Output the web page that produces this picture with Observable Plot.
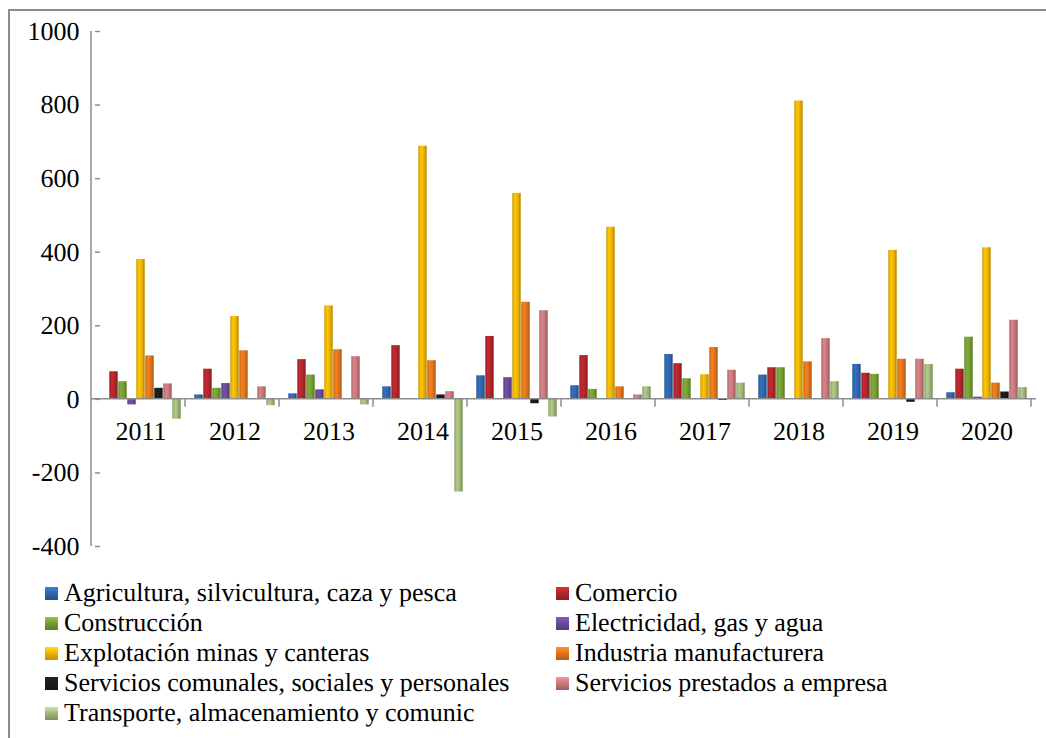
<!DOCTYPE html>
<html>
<head>
<meta charset="utf-8">
<script src="https://cdn.jsdelivr.net/npm/d3@7"></script>
<script src="https://cdn.jsdelivr.net/npm/@observablehq/plot@0.6"></script>
<style>
  * { text-rendering: geometricPrecision !important; }
  html, body { margin: 0; padding: 0; background: #fff; overflow: hidden; }
  #wrap { position: relative; width: 1046px; height: 738px; overflow: hidden; font-family: 'Liberation Serif'; }
  #frame { position: absolute; left: 8px; top: 9px; width: 1100px; height: 800px; border: 2px solid #8c8c8c; box-sizing: border-box; }
  #chart { position: absolute; left: 0; top: 0; }
  #chart svg text { text-rendering: geometricPrecision !important; font-family: 'Liberation Serif'; }
  .leg { position: absolute; font-family: 'Liberation Serif'; font-size: 26px; line-height: 30px; color: #000; white-space: nowrap; text-rendering: geometricPrecision; }
  .leg .sw { position: absolute; width: 13px; height: 13px; top: 9px; left: 0; }
  .leg .tx { position: absolute; left: 19px; top: 0; }
  g[aria-label="y-axis tick"] path { stroke: #8c8c8c; stroke-width: 1.5; }
</style>
</head>
<body>
<div id="wrap">
  <div id="frame"></div>
  <div id="chart"></div>
</div>
<script>
// ---------- data ----------
const years = ["2011","2012","2013","2014","2015","2016","2017","2018","2019","2020"];
const seriesNames = [
  "Agricultura, silvicultura, caza y pesca",
  "Comercio",
  "Construcción",
  "Electricidad, gas y agua",
  "Explotación minas y canteras",
  "Industria manufacturera",
  "Servicios comunales, sociales y personales",
  "Servicios prestados a empresa",
  "Transporte, almacenamiento y comunic"
];
const agricultura   = [0, 12, 15, 34, 64, 37, 122, 66, 95, 18];
const comercio      = [75, 82, 108, 146, 171, 119, 97, 86, 71, 82];
const construccion  = [48, 30, 66, 0, 0, 27, 56, 86, 68, 169];
const electricidad  = [-15, 43, 26, 0, 59, 0, 0, 2, 1, 6];
const explotacion   = [380, 225, 254, 688, 560, 468, 67, 811, 405, 412];
const industria     = [118, 132, 135, 105, 264, 34, 141, 102, 109, 44];
const servComunales = [30, 0, 0, 12, -12, 0, -3, 0, -8, 20];
const servPrestados = [42, 34, 116, 21, 241, 12, 79, 165, 109, 215];
const transporte    = [-54, -17, -15, -252, -48, 34, 44, 48, 95, 32];
const yTicks = [-400, -200, 0, 200, 400, 600, 800, 1000];
const colors = ["#2f67b1", "#b3262b", "#76a033", "#6a4b9b", "#f2b600", "#e3761b", "#1c1c1c", "#c97a7c", "#a2ba7c"];

const seriesValues = [agricultura, comercio, construccion, electricidad, explotacion, industria, servComunales, servPrestados, transporte];
const rows = [];
seriesNames.forEach((s, i) => years.forEach((y, j) => rows.push({year: y, series: s, value: seriesValues[i][j]})));

// ---------- gradients ----------
const defsSvg = d3.select("body").append("svg").attr("width", 0).attr("height", 0).style("position", "absolute");
const defs = defsSvg.append("defs");
colors.forEach((c, i) => {
  const g = defs.append("linearGradient").attr("id", "g" + i).attr("x1", 0).attr("x2", 1).attr("y1", 0).attr("y2", 0);
  const base = d3.color(c);
  g.append("stop").attr("offset", "0%").attr("stop-color", base.darker(0.5).formatHex());
  g.append("stop").attr("offset", "30%").attr("stop-color", base.brighter(0.25).formatHex());
  g.append("stop").attr("offset", "60%").attr("stop-color", base.formatHex());
  g.append("stop").attr("offset", "100%").attr("stop-color", base.darker(0.8).formatHex());
});

// ---------- chart ----------
const plot = Plot.plot({
  width: 1046,
  height: 562,
  marginTop: 31,
  marginLeft: 91,
  marginRight: 10,
  marginBottom: 16,
  style: {fontFamily: "'Liberation Serif'", fontSize: "26px", background: "transparent", color: "#000"},
  fx: {domain: years, paddingInner: 0.135, paddingOuter: 0.0675, axis: null},
  x: {domain: seriesNames, padding: 0, axis: null},
  y: {domain: [-400, 1000], ticks: yTicks, tickSize: 5, tickPadding: 16, tickFormat: d => String(d), label: null},
  color: {domain: seriesNames, range: colors.map((c, i) => `url(#g${i})`)},
  marks: [
    Plot.barY(rows, {fx: "year", x: "series", y: "value", fill: "series", insetLeft: 0.3, insetRight: 0.3}),
    Plot.text(years, {fx: d => d, y: () => 0, text: d => d, dy: 32, fontSize: 26, fill: "#000"})
  ]
});
document.getElementById("chart").appendChild(plot);

// axis lines drawn with the plot's own scales
const ys = plot.scale("y");
const fxs = plot.scale("fx");
const svg = d3.select(plot);
svg.attr("text-rendering", "geometricPrecision");
svg.selectAll("g").attr("font-variant", null);
const x0 = fxs.range[0], x1 = fxs.range[1];
const y0 = ys.apply(0);
const ax = svg.append("g").attr("stroke", "#8c8c8c").attr("stroke-width", 1.5).attr("fill", "none");
ax.append("line").attr("x1", x0).attr("x2", x0).attr("y1", ys.apply(1000)).attr("y2", ys.apply(-400));
ax.append("line").attr("x1", x0).attr("x2", x1).attr("y1", y0).attr("y2", y0);
d3.range(1, years.length + 1).forEach(k => {
  const xx = x0 + k * fxs.step;
  ax.append("line").attr("x1", xx).attr("x2", xx).attr("y1", y0).attr("y2", y0 + 8);
});

// ---------- legend ----------
const wrap = document.getElementById("wrap");
const leftCol = [0, 2, 4, 6, 8];
const rightCol = [1, 3, 5, 7];
function addLegend(idx, left, row) {
  const d = document.createElement("div");
  d.className = "leg";
  d.style.left = left + "px";
  d.style.top = (578 + row * 30) + "px";
  const sw = document.createElement("span");
  sw.className = "sw";
  sw.style.background = `linear-gradient(180deg, ${d3.color(colors[idx]).brighter(0.6)} 0%, ${colors[idx]} 45%, ${d3.color(colors[idx]).darker(0.7)} 100%)`;
  const tx = document.createElement("span");
  tx.className = "tx";
  tx.textContent = seriesNames[idx];
  d.appendChild(sw); d.appendChild(tx);
  wrap.appendChild(d);
}
leftCol.forEach((idx, r) => addLegend(idx, 45, r));
rightCol.forEach((idx, r) => addLegend(idx, 556, r));
</script>
</body>
</html>
